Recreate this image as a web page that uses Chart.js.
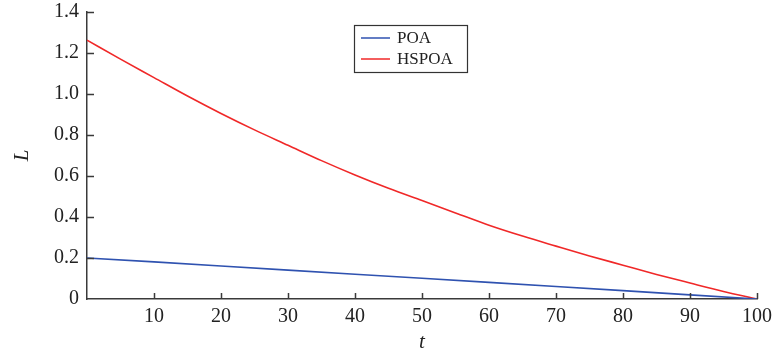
<!DOCTYPE html>
<html>
<head>
<meta charset="utf-8">
<script src="https://cdn.jsdelivr.net/npm/chart.js@4"></script>
<style>
  html, body { margin: 0; padding: 0; background: #fff; }
  #wrap { width: 776px; height: 355px; }
</style>
</head>
<body>
<div id="wrap"><canvas id="chart" width="776" height="355"></canvas></div>
<script>
// values
let tPoa = [0, 10, 20, 30, 40, 50, 60, 70, 80, 90, 100]
let poa = [0.2, 0.181, 0.161, 0.141, 0.121, 0.101, 0.081, 0.061, 0.041, 0.02, 0]

let tHspoa = [0, 5, 10, 15, 20, 25, 30, 35, 40, 45, 50, 55, 60, 65, 70, 75, 80, 85, 90, 95, 100]
let hspoa = [1.263, 1.17, 1.08, 0.99, 0.905, 0.825, 0.75, 0.675, 0.605, 0.54, 0.48,
    0.42, 0.36, 0.307, 0.258, 0.21, 0.165, 0.12, 0.078, 0.037, 0]

let xTicks = [10, 20, 30, 40, 50, 60, 70, 80, 90, 100]
let yTicks = [0, 0.2, 0.4, 0.6, 0.8, 1.0, 1.2, 1.4]

let axisColor = '#3a3a3a'
let serif = "'Liberation Serif', 'Times New Roman', serif"

function toPoints(xs, ys) {
    return xs.map((x, i) => ({ x: x, y: ys[i] }))
}

// inward tick marks, drawn from the scales
const innerTicks = {
    id: 'innerTicks',
    afterDraw(chart) {
        let ctx = chart.ctx
        let xs = chart.scales.x
        let ys = chart.scales.y
        let area = chart.chartArea
        ctx.save()
        ctx.strokeStyle = axisColor
        ctx.lineWidth = 1.5
        ctx.beginPath()
        xTicks.forEach(v => {
            let px = Math.round(xs.getPixelForValue(v)) + 0.5
            ctx.moveTo(px, area.bottom)
            ctx.lineTo(px, area.bottom - 6)
        })
        yTicks.forEach(v => {
            if (v === 0) return
            let py = Math.round(ys.getPixelForValue(v)) + 0.5
            ctx.moveTo(area.left, py)
            ctx.lineTo(area.left + 7, py)
        })
        ctx.stroke()
        ctx.restore()
    }
}

// boxed legend inside the plot
const boxLegend = {
    id: 'boxLegend',
    afterDraw(chart) {
        let ctx = chart.ctx
        let x0 = 354, y0 = 25, w = 113, h = 47
        ctx.save()
        ctx.fillStyle = '#fff'
        ctx.fillRect(x0, y0, w, h)
        ctx.strokeStyle = '#333'
        ctx.lineWidth = 1.2
        ctx.strokeRect(x0 + 0.5, y0 + 0.5, w, h)
        ctx.font = '17px ' + serif
        ctx.textBaseline = 'middle'
        chart.data.datasets.forEach((ds, i) => {
            let yy = y0 + 13 + i * 21
            ctx.strokeStyle = ds.borderColor
            ctx.lineWidth = 1.5
            ctx.beginPath()
            ctx.moveTo(x0 + 7, yy)
            ctx.lineTo(x0 + 36, yy)
            ctx.stroke()
            ctx.fillStyle = '#222'
            ctx.fillText(ds.label, x0 + 43, yy + 1)
        })
        ctx.restore()
    }
}

let ctx = document.getElementById('chart')
let chart = new Chart(ctx, {
    type: 'line',
    data: {
        datasets: [{
            label: 'POA',
            data: toPoints(tPoa, poa),
            borderColor: '#2f52b0',
            borderWidth: 1.6,
            pointRadius: 0,
            tension: 0,
            fill: false
        },
        {
            label: 'HSPOA',
            data: toPoints(tHspoa, hspoa),
            borderColor: '#f02828',
            borderWidth: 1.6,
            pointRadius: 0,
            cubicInterpolationMode: 'monotone',
            fill: false
        }]
    },
    options: {
        responsive: false,
        animation: false,
        layout: { padding: { left: 0, right: 19, top: 12, bottom: 0 } },
        scales: {
            x: {
                type: 'linear',
                min: 0,
                max: 100,
                afterBuildTicks: function(scale) {
                    scale.ticks = xTicks.map(v => ({ value: v }))
                },
                afterFit: function(scale) {
                    scale.height = 56
                    scale.paddingLeft = 0
                    scale.paddingRight = 0
                },
                grid: { display: false, drawTicks: false },
                border: { display: true, color: axisColor, width: 1.5 },
                ticks: {
                    padding: 6,
                    color: '#222',
                    maxRotation: 0,
                    font: { family: serif, size: 20 }
                },
                title: {
                    display: true,
                    text: 't',
                    color: '#222',
                    padding: { top: 4, bottom: 0 },
                    font: { family: serif, size: 21, style: 'italic' }
                }
            },
            y: {
                min: 0,
                max: 1.4,
                afterBuildTicks: function(scale) {
                    scale.ticks = yTicks.map(v => ({ value: v }))
                },
                afterFit: function(scale) {
                    scale.width = 87
                    scale.paddingTop = 0
                    scale.paddingBottom = 0
                },
                grid: { display: false, drawTicks: false },
                border: { display: true, color: axisColor, width: 1.5 },
                ticks: {
                    padding: 8,
                    color: '#222',
                    font: { family: serif, size: 20 },
                    callback: function(value) {
                        return value === 0 ? '0' : Number(value).toFixed(1)
                    }
                },
                title: {
                    display: true,
                    text: 'L',
                    color: '#222',
                    padding: { top: 10, bottom: 0 },
                    font: { family: serif, size: 21, style: 'italic' }
                }
            }
        },
        plugins: {
            legend: { display: false },
            tooltip: { enabled: false }
        }
    },
    plugins: [innerTicks, boxLegend]
})
</script>
</body>
</html>
